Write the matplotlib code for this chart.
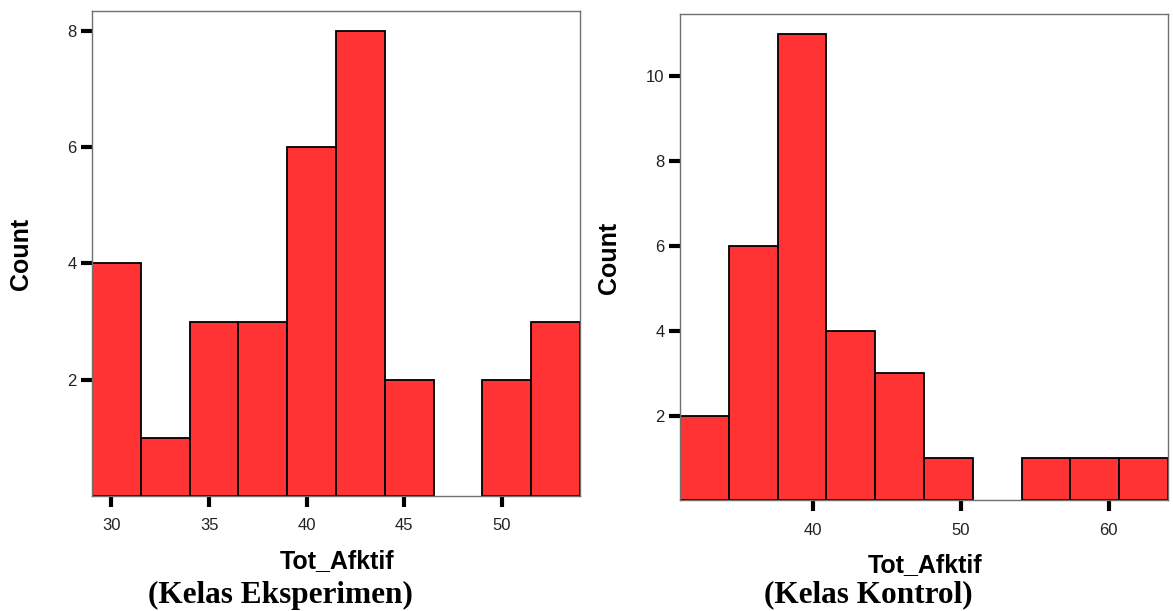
import matplotlib
matplotlib.use("Agg")
import matplotlib.pyplot as plt

# Histogram data (bin edges and counts)
eksp_edges = [29.0, 31.5, 34.0, 36.5, 39.0, 41.5, 44.0, 46.5, 49.0, 51.5, 54.0]
eksp_counts = [4, 1, 3, 3, 6, 8, 2, 0, 2, 3]
eksp_xticks = [30, 35, 40, 45, 50]
eksp_yticks = [2, 4, 6, 8]

kontrol_edges = [31.0, 34.3, 37.6, 40.9, 44.2, 47.5, 50.8, 54.1, 57.4, 60.7, 64.0]
kontrol_counts = [2, 6, 11, 4, 3, 1, 0, 1, 1, 1]
kontrol_xticks = [40, 50, 60]
kontrol_yticks = [2, 4, 6, 8, 10]

x_label = "Tot_Afktif"
y_label = "Count"
captions = ["(Kelas Eksperimen)", "(Kelas Kontrol)"]

BAR = "#FF3333"
SANS = ["Liberation Sans", "DejaVu Sans"]
SERIF = ["Liberation Serif", "DejaVu Serif"]

fig = plt.figure(figsize=(11.73, 6.11), dpi=100)
fig.patch.set_facecolor("white")

ax1 = fig.add_axes([0.0784, 0.1882, 0.416, 0.7938])
ax2 = fig.add_axes([0.5797, 0.1809, 0.416, 0.7955])


def hist_panel(ax, edges, counts, xticks, yticks, xlim, ylim):
    lefts = edges[:-1]
    widths = [b - a for a, b in zip(edges[:-1], edges[1:])]
    bars = ax.bar(lefts, counts, width=widths, align="edge", color=BAR,
                  edgecolor="black", linewidth=1.3, zorder=2)
    # empty bins show only the grey frame, not a black edge
    for b, c in zip(bars, counts):
        if c == 0:
            b.set_edgecolor("none")
    ax.set_xlim(*xlim)
    ax.set_ylim(*ylim)
    ax.set_xticks(xticks)
    ax.set_yticks(yticks)
    ax.tick_params(axis="both", direction="out", length=8, width=3,
                   color="black", labelsize=12, labelcolor="#222222", pad=3)
    ax.tick_params(axis="x", pad=8)
    for lbl in ax.get_xticklabels() + ax.get_yticklabels():
        lbl.set_family(SANS)
    for sp in ax.spines.values():
        sp.set_color("#707070")
        sp.set_linewidth(1.0)
    ax.set_ylabel(y_label, fontsize=18, fontweight="bold", family=SANS)
    ax.yaxis.set_label_coords(-0.121, 0.5)
    ax.text(0.503, -0.133, x_label, transform=ax.transAxes, ha="center",
            va="center", fontsize=18, fontweight="bold", family=SANS)


hist_panel(ax1, eksp_edges, eksp_counts, eksp_xticks, eksp_yticks,
           (29.0, 54.0), (0, 8.34))
hist_panel(ax2, kontrol_edges, kontrol_counts, kontrol_xticks, kontrol_yticks,
           (31.0, 64.0), (0, 11.46))

fig.text(280 / 1173, 1 - 595 / 611, captions[0], ha="center", va="center",
         fontsize=22.5, fontweight="bold", family=SERIF)
fig.text(868 / 1173, 1 - 595 / 611, captions[1], ha="center", va="center",
         fontsize=22.5, fontweight="bold", family=SERIF)

fig.savefig("out.png", dpi=100, facecolor="white")
